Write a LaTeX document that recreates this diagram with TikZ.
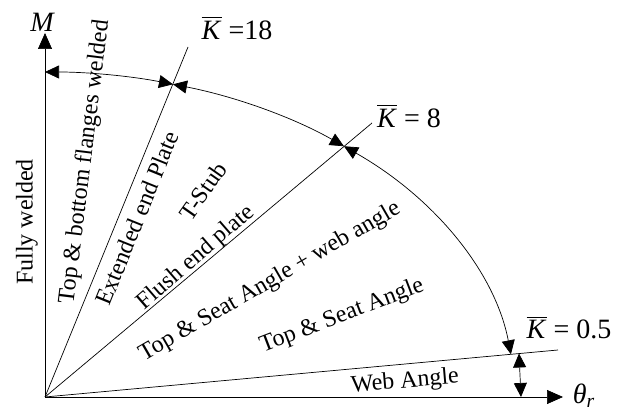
\documentclass[tikz,border=0pt]{standalone}
\usepackage{fontspec}
\setmainfont{Liberation Serif}
\usetikzlibrary{arrows.meta}
\newcommand{\Kbar}{$\overline{\mbox{\itshape K\/}}$}
\begin{document}
\begin{tikzpicture}[x=0.5pt,y=0.5pt,
  lbl/.style={font=\fontsize{12}{14}\selectfont, inner sep=0pt},
  mlbl/.style={font=\fontsize{14}{16}\selectfont, inner sep=0pt},
  ln/.style={line width=0.35pt},
  tip/.style={-{Triangle[length=8pt,width=7pt]}},
  dtip/.style={{Triangle[length=7pt,width=6.5pt]}-{Triangle[length=7pt,width=6.5pt]}}]
\useasboundingbox (-45,-13) rectangle (575,397);
\coordinate (O) at (0,0);
\coordinate (Mtop) at (0,364);
\coordinate (Tend) at (518,0);
\coordinate (K18) at (143,350);
\coordinate (K8) at (327,274);
\coordinate (K05) at (513,47);
% axes
\draw[ln,tip] (O) -- (Mtop);
\draw[ln,tip] (O) -- (Tend);
% lines
\draw[ln] (O) -- (K18);
\draw[ln] (O) -- (K8);
\draw[ln] (O) -- (K05);
% arcs
\draw[ln,dtip] (O) ++(90:470 and 325) arc[start angle=90,end angle=74.2,x radius=470,y radius=325];
\draw[ln,dtip] (O) ++(74.2:470 and 325) arc[start angle=74.2,end angle=50.5,x radius=470,y radius=325];
\draw[ln,dtip] (O) ++(50.5:470 and 325) arc[start angle=50.5,end angle=7.55,x radius=470,y radius=325];
\coordinate (va) at (474,43.5);
\coordinate (vb) at (476,0);
\draw[ln,dtip] (va) -- (vb);
% labels
\node[mlbl] (lM) at (-3,375) {\itshape M};
\node[mlbl] (lT) at (539,1) {\itshape θ\textsubscript{\itshape r}};
\node[mlbl] (l18) at (192,369) {\Kbar\ =18};
\node[mlbl] (l8) at (364,281) {\Kbar\ = 8};
\node[mlbl] (l05) at (524,69) {\Kbar\ = 0.5};
\node[lbl,rotate=90] (t1) at (-18,175) {Fully welded};
\node[lbl,rotate=83] (t2) at (40,235) {Top \& bottom flanges welded};
\node[lbl,rotate=68] (t3) at (92,179) {Extended end Plate};
\node[lbl,rotate=55] (t4) at (158,206) {T-Stub};
\node[lbl,rotate=41] (t5) at (151,139) {Flush end plate};
\node[lbl,rotate=30] (t6) at (225,115) {Top \& Seat Angle + web angle};
\node[lbl,rotate=21] (t7) at (297,81) {Top \& Seat Angle};
\node[lbl,rotate=5] (t8) at (360,15) {Web Angle};
\end{tikzpicture}
\end{document}
